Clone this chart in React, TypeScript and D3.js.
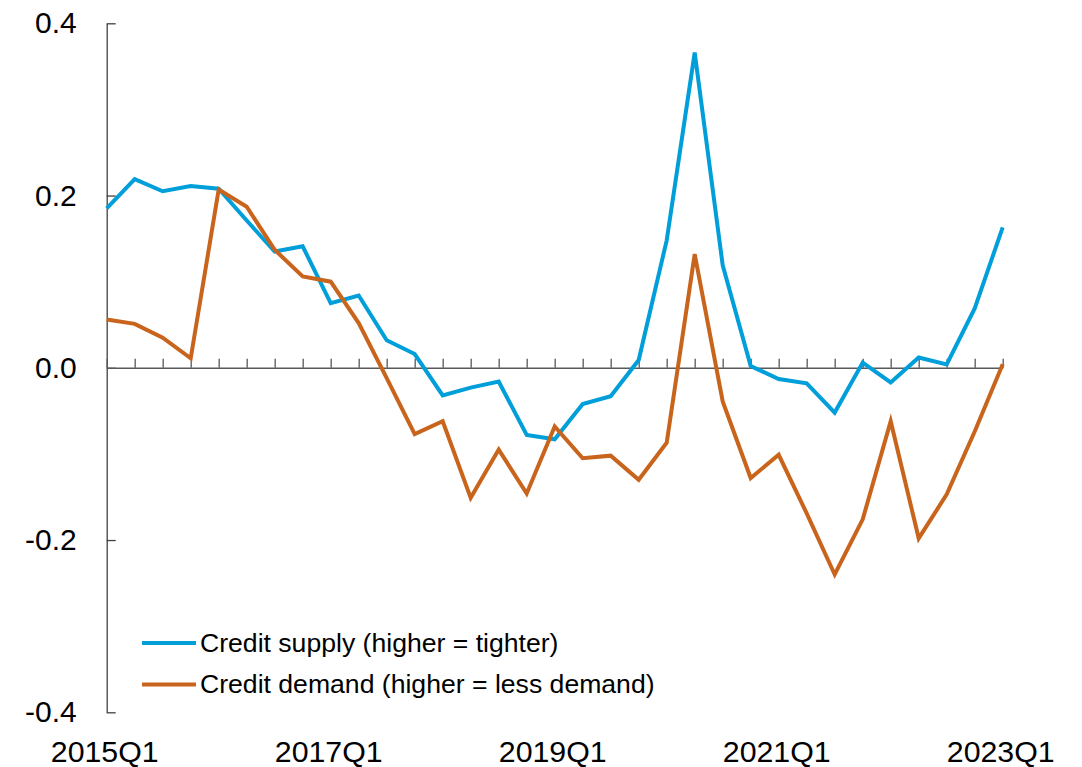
import * as d3 from "d3";
import { useEffect, useRef } from "react";

// Data
const quarters = [
  "2015Q1", "2015Q2", "2015Q3", "2015Q4", "2016Q1", "2016Q2", "2016Q3", "2016Q4",
  "2017Q1", "2017Q2", "2017Q3", "2017Q4", "2018Q1", "2018Q2", "2018Q3", "2018Q4",
  "2019Q1", "2019Q2", "2019Q3", "2019Q4", "2020Q1", "2020Q2", "2020Q3", "2020Q4",
  "2021Q1", "2021Q2", "2021Q3", "2021Q4", "2022Q1", "2022Q2", "2022Q3", "2022Q4",
  "2023Q1"
];
const creditSupply = [
  0.185, 0.219, 0.205, 0.211, 0.208, 0.171, 0.135, 0.141, 0.075, 0.084, 0.032,
  0.016, -0.032, -0.023, -0.016, -0.078, -0.083, -0.042, -0.033, 0.009, 0.148,
  0.366, 0.119, 0.002, -0.013, -0.018, -0.052, 0.006, -0.017, 0.012, 0.004,
  0.069, 0.163
];
const creditDemand = [
  0.056, 0.051, 0.035, 0.011, 0.207, 0.187, 0.137, 0.106, 0.100, 0.052, -0.012,
  -0.077, -0.062, -0.151, -0.095, -0.146, -0.068, -0.105, -0.102, -0.130, -0.087,
  0.132, -0.039, -0.128, -0.101, -0.169, -0.240, -0.176, -0.062, -0.198, -0.147,
  -0.074, 0.004
];
const xLabels = ["2015Q1", "2017Q1", "2019Q1", "2021Q1", "2023Q1"];
const yTicks = [-0.4, -0.2, 0, 0.2, 0.4];
const seriesNames = ["Credit supply (higher = tighter)", "Credit demand (higher = less demand)"];
const colors = ["#009FDA", "#C8641C"];

const W = 1082;
const H = 767;
const FONT = "'Liberation Sans', Arial, sans-serif";

const drawChart = (el: SVGSVGElement) => {
  const svg = d3.select(el);
  svg.selectAll("*").remove();

  const x = d3.scalePoint<string>().domain(quarters).range([106.7, 1002.7]);
  const y = d3.scaleLinear().domain([-0.4, 0.4]).range([712.3, 23.3]);

  // y axis, ticks pointing inward
  const yAxis = d3.axisLeft(y)
    .tickValues(yTicks)
    .tickSizeInner(-9)
    .tickSizeOuter(0)
    .tickPadding(30)
    .tickFormat(d => (+d).toFixed(1));
  const yg = svg.append("g")
    .attr("transform", `translate(${x(quarters[0])},0)`)
    .call(yAxis);
  yg.select(".domain").attr("stroke", "#404040").attr("stroke-width", 1.3);
  yg.selectAll(".tick line").attr("stroke", "#404040").attr("stroke-width", 1.3);
  yg.selectAll(".tick text")
    .attr("font-family", FONT)
    .attr("font-size", 30)
    .attr("fill", "#000")
    .attr("dy", "0.32em");

  // x axis at zero, ticks pointing up
  const xAxis = d3.axisBottom(x).tickSizeInner(-9).tickSizeOuter(0).tickFormat(() => "");
  const xg = svg.append("g")
    .attr("transform", `translate(0,${y(0)})`)
    .call(xAxis);
  xg.select(".domain").attr("stroke", "#595959").attr("stroke-width", 1.5);
  xg.selectAll(".tick line").attr("stroke", "#595959").attr("stroke-width", 1.3);

  // x labels at the bottom
  svg.append("g")
    .selectAll("text")
    .data(xLabels)
    .join("text")
    .attr("x", d => (x(d) as number) - 2)
    .attr("y", 762)
    .attr("text-anchor", "middle")
    .attr("font-family", FONT)
    .attr("font-size", 30.3)
    .attr("fill", "#000")
    .text(d => d);

  // lines
  const line = d3.line<number>()
    .x((_, i) => x(quarters[i]) as number)
    .y(d => y(d));

  [creditSupply, creditDemand].forEach((vals, k) => {
    svg.append("path")
      .datum(vals)
      .attr("fill", "none")
      .attr("stroke", colors[k])
      .attr("stroke-width", 4)
      .attr("stroke-linejoin", "miter")
      .attr("d", line);
  });

  // legend
  const legend = svg.append("g").attr("transform", "translate(142,643)");
  seriesNames.forEach((name, k) => {
    const row = legend.append("g").attr("transform", `translate(0,${k * 41.5})`);
    row.append("line")
      .attr("x1", 0).attr("x2", 54)
      .attr("y1", 0).attr("y2", 0)
      .attr("stroke", colors[k])
      .attr("stroke-width", 4);
    row.append("text")
      .attr("x", 58)
      .attr("y", 8.5)
      .attr("font-family", FONT)
      .attr("font-size", 26.6)
      .attr("fill", "#000")
      .text(name);
  });
};

export default function App() {
  const ref = useRef<SVGSVGElement>(null);

  useEffect(() => {
    document.body.style.margin = "0";
    if (ref.current) drawChart(ref.current);
  }, []);

  return (
    <svg ref={ref} width={W} height={H} style={{ display: "block", background: "#fff" }} />
  );
}
